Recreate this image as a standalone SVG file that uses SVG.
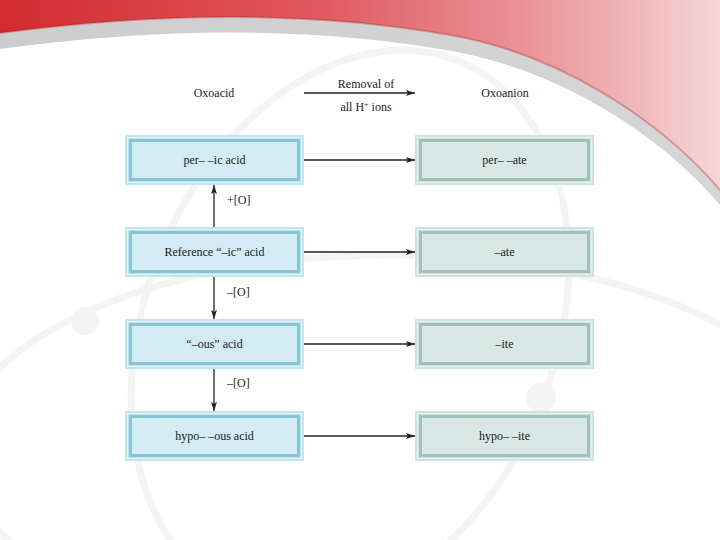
<svg xmlns="http://www.w3.org/2000/svg" width="720" height="540" viewBox="0 0 720 540">
<defs>
<linearGradient id="red" x1="0" y1="0" x2="1" y2="0">
<stop offset="0" stop-color="#d32a2f"/>
<stop offset="0.45" stop-color="#e05a5f"/>
<stop offset="0.8" stop-color="#eca3a6"/>
<stop offset="1" stop-color="#f6d6d8"/>
</linearGradient>
<linearGradient id="gray" x1="0" y1="0" x2="1" y2="0">
<stop offset="0" stop-color="#cdcdcd"/>
<stop offset="1" stop-color="#d6d6d6"/>
</linearGradient>
<marker id="ah" markerWidth="9" markerHeight="6" refX="9" refY="3" orient="auto" markerUnits="userSpaceOnUse">
<path d="M0,0 L9,3 L0,6 L2,3 Z" fill="#222"/>
</marker>
<style>
.t{font-family:"Liberation Serif","Times New Roman",serif;font-size:12px;fill:#222;text-anchor:middle}
.lbl{font-family:"Liberation Serif","Times New Roman",serif;font-size:12px;fill:#222}
.orb{fill:none;stroke:#f4f4f4;stroke-width:7}
.aOut{fill:#c1e4ed}
.aLine{fill:none;stroke:#e2f3f7;stroke-width:1}
.aIn{fill:#d3ebf2;stroke:#87c5d4;stroke-width:3}
.nOut{fill:#d0e2df}
.nLine{fill:none;stroke:#e6f0ee;stroke-width:1}
.nIn{fill:#d9e7e5;stroke:#a0c1bc;stroke-width:3}
.c{fill:none;stroke:#222;stroke-width:1.3;marker-end:url(#ah)}
</style>
</defs>
<rect width="720" height="540" fill="#ffffff"/>
<g id="background">
<ellipse class="orb" cx="390" cy="450" rx="430" ry="195"/>
<ellipse class="orb" cx="350" cy="330" rx="205" ry="290" transform="rotate(22 350 330)"/>
<circle cx="85" cy="321" r="14" fill="#f4f4f4"/>
<circle cx="541" cy="398" r="15" fill="#f4f4f4"/>
<path d="M0,49 Q250,15 452,51 C562,71 662,136 720,205 L720,0 L0,0 Z" fill="url(#gray)"/>
<path d="M0,33 Q250,0 450,35 C560,54 660,120 720,190 L720,0 L0,0 Z" fill="url(#red)"/>
<path d="M0,33 Q250,0 450,35 C560,54 660,120 720,190" fill="none" stroke="#9c1d22" stroke-opacity="0.3" stroke-width="2"/>
</g>
<g id="header">
<text class="t" x="214" y="97">Oxoacid</text>
<text class="t" x="366" y="88">Removal of</text>
<text class="t" x="366" y="111">all H<tspan font-size="8" dy="-4">+</tspan><tspan dy="4"> ions</tspan></text>
<text class="t" x="505" y="97">Oxoanion</text>
</g>
<g id="connectors">
<line class="c" x1="304" y1="93" x2="415" y2="93"/>
<line class="c" x1="304" y1="160" x2="415" y2="160"/>
<line class="c" x1="304" y1="252" x2="415" y2="252"/>
<line class="c" x1="304" y1="344" x2="415" y2="344"/>
<line class="c" x1="304" y1="436" x2="415" y2="436"/>
<line class="c" x1="214" y1="227" x2="214" y2="185"/>
<line class="c" x1="214" y1="277" x2="214" y2="319"/>
<line class="c" x1="214" y1="369" x2="214" y2="411"/>
<text class="lbl" x="227" y="204">+[O]</text>
<text class="lbl" x="227" y="296">–[O]</text>
<text class="lbl" x="227" y="387">–[O]</text>
</g>
<g id="per-ic-acid">
<rect class="aOut" x="125" y="135" width="179" height="50"/>
<rect class="aLine" x="127.5" y="137.5" width="174" height="45"/>
<rect class="aIn" x="130.5" y="140.5" width="168" height="39"/>
<text class="t" x="214.5" y="164">per– –ic acid</text>
</g>
<g id="reference-ic-acid">
<rect class="aOut" x="125" y="227" width="179" height="50"/>
<rect class="aLine" x="127.5" y="229.5" width="174" height="45"/>
<rect class="aIn" x="130.5" y="232.5" width="168" height="39"/>
<text class="t" x="214.5" y="256">Reference “–ic” acid</text>
</g>
<g id="ous-acid">
<rect class="aOut" x="125" y="319" width="179" height="50"/>
<rect class="aLine" x="127.5" y="321.5" width="174" height="45"/>
<rect class="aIn" x="130.5" y="324.5" width="168" height="39"/>
<text class="t" x="214.5" y="348">“–ous” acid</text>
</g>
<g id="hypo-ous-acid">
<rect class="aOut" x="125" y="411" width="179" height="50"/>
<rect class="aLine" x="127.5" y="413.5" width="174" height="45"/>
<rect class="aIn" x="130.5" y="416.5" width="168" height="39"/>
<text class="t" x="214.5" y="440">hypo– –ous acid</text>
</g>
<g id="per-ate">
<rect class="nOut" x="415" y="135" width="179" height="50"/>
<rect class="nLine" x="417.5" y="137.5" width="174" height="45"/>
<rect class="nIn" x="420.5" y="140.5" width="168" height="39"/>
<text class="t" x="504.5" y="164">per– –ate</text>
</g>
<g id="ate">
<rect class="nOut" x="415" y="227" width="179" height="50"/>
<rect class="nLine" x="417.5" y="229.5" width="174" height="45"/>
<rect class="nIn" x="420.5" y="232.5" width="168" height="39"/>
<text class="t" x="504.5" y="256">–ate</text>
</g>
<g id="ite">
<rect class="nOut" x="415" y="319" width="179" height="50"/>
<rect class="nLine" x="417.5" y="321.5" width="174" height="45"/>
<rect class="nIn" x="420.5" y="324.5" width="168" height="39"/>
<text class="t" x="504.5" y="348">–ite</text>
</g>
<g id="hypo-ite">
<rect class="nOut" x="415" y="411" width="179" height="50"/>
<rect class="nLine" x="417.5" y="413.5" width="174" height="45"/>
<rect class="nIn" x="420.5" y="416.5" width="168" height="39"/>
<text class="t" x="504.5" y="440">hypo– –ite</text>
</g>
</svg>
